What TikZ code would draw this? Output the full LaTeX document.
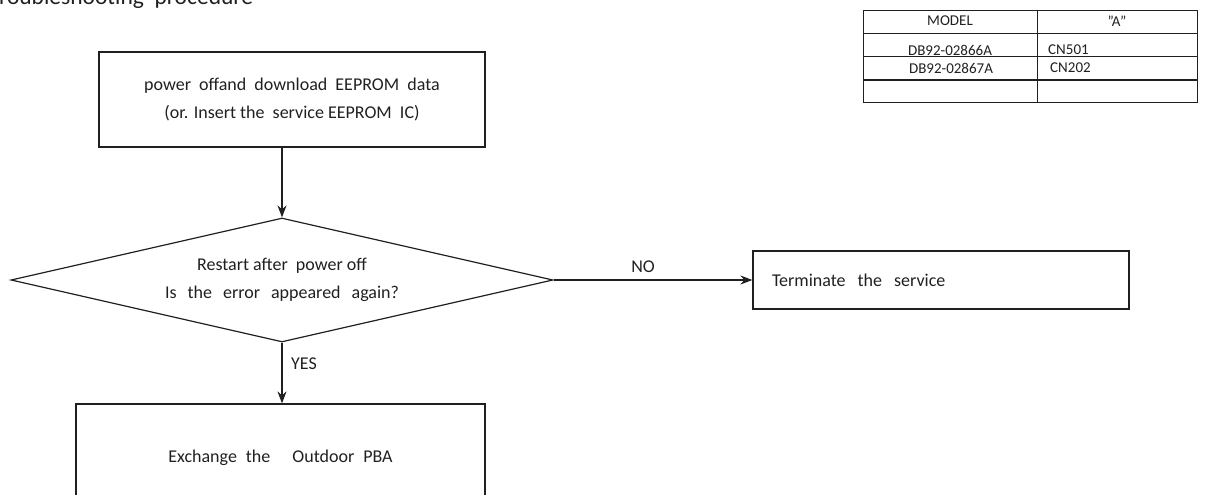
\documentclass[tikz,border=0pt]{standalone}
\usepackage{fontspec}
\setmainfont{Carlito}
\usetikzlibrary{shapes.geometric,arrows.meta}
\definecolor{ink}{HTML}{231F20}
\tikzset{
  box/.style={draw=ink, line width=1.2pt, rectangle, inner sep=0pt, text=ink, font=\fontsize{18}{27}\selectfont, align=center},
  decision/.style={draw=ink, line width=1.2pt, diamond, aspect=4.37, inner sep=0pt, text=ink, font=\fontsize{18}{28}\selectfont, align=center},
  flow/.style={draw=ink, line width=1.2pt, -{Stealth[length=12pt,width=9pt]}},
  lbl/.style={text=ink, font=\fontsize{18}{20}\selectfont, inner sep=0pt},
  tline/.style={draw=ink, line width=1pt},
  tcell/.style={text=ink, font=\fontsize{15}{17}\selectfont, inner sep=0pt},
}
\begin{document}
\begin{tikzpicture}[x=1pt,y=-1pt]
\clip (0,0) rectangle (1210,495);
\useasboundingbox (0,0) rectangle (1210,495);
% title
\node[lbl, anchor=base west, font=\fontsize{23.5}{25}\selectfont] (title) at (-11,5) {Troubleshooting\ \ procedure};
% table
\draw[tline] (863,11) rectangle (1197,102);
\draw[tline] (863,34) -- (1197,34);
\draw[tline] (863,57) -- (1197,57);
\draw[tline] (863,80) -- (1197,80);
\draw[tline] (1037,11) -- (1037,102);
\node[tcell] (hmodel) at (950,21) {MODEL};
\node[tcell] (ha) at (1117,21) {"A"};
\node[tcell] (m1) at (950,50) {DB92-02866A};
\node[tcell, anchor=west] (c1) at (1048,50) {CN501};
\node[tcell] (m2) at (951,68) {DB92-02867A};
\node[tcell, anchor=west] (c2) at (1050,68) {CN202};
% flow
\node[box, minimum width=386pt, minimum height=95pt] (dl) at (292,99.5)
  {\raisebox{-4pt}{\parbox{380pt}{\centering power\ \ offand\ \ download\ \ EEPROM\ \ data\\[1pt](or. Insert the\ \ service EEPROM\ \ IC)}}};
\node[decision, minimum width=542pt, minimum height=124pt] (dec) at (282,280)
  {Restart after\ \ power off\\Is\hspace{11pt}the\hspace{11pt}error\hspace{11pt}appeared\hspace{11pt}again?};
\node[box, minimum width=376pt, minimum height=58pt, text width=338pt, align=left, inner xsep=19pt] (term) at (941,280)
  {Terminate\ \ the\ \ service};
\node[box, minimum width=409pt, minimum height=110pt] (exch) at (280.5,459)
  {\raisebox{6pt}{Exchange\hspace{9pt}the\hspace{22pt}Outdoor\hspace{9pt}PBA}};
\draw[flow] (dl.south -| dec.north) -- (dec.north);
\draw[flow] (dec.south) -- (exch.north -| dec.south);
\draw[flow] (dec.east) -- node[lbl, above=7pt, pos=0.45] (no) {NO} (term.west);
\node[lbl, anchor=west] (yes) at (291,364) {YES};
\end{tikzpicture}
\end{document}
